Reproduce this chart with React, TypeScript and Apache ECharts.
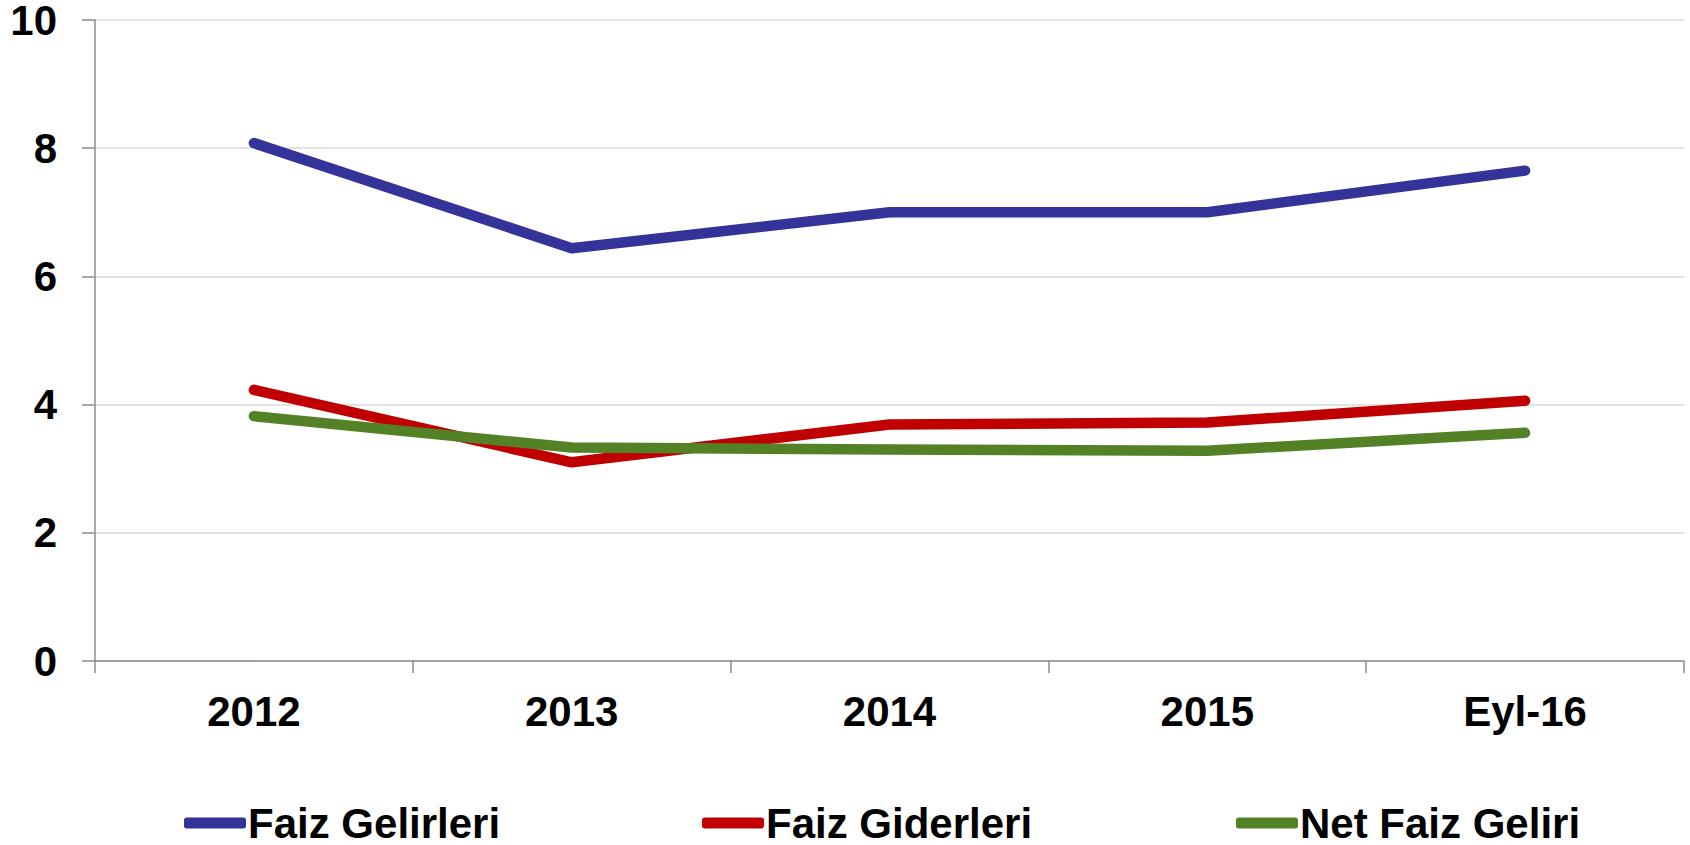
import React, { useEffect, useRef } from "react";
import * as echarts from "echarts";

const categories = ["2012", "2013", "2014", "2015", "Eyl-16"];
const faizGelirleri = [8.08, 6.44, 7.0, 7.0, 7.65];
const faizGiderleri = [4.23, 3.1, 3.69, 3.72, 4.06];
const netFaizGeliri = [3.82, 3.33, 3.3, 3.28, 3.56];
const seriesNames = ["Faiz Gelirleri", "Faiz Giderleri", "Net Faiz Geliri"];
const colors = ["#333399", "#C00000", "#538126"];
const yTicks = { min: 0, max: 10, interval: 2 };

const FONT = "'Liberation Sans', Arial, sans-serif";

export default function App() {
  const ref = useRef<HTMLDivElement>(null);
  useEffect(() => {
    document.body.style.margin = "0";
    const chart = echarts.init(ref.current!, null, { renderer: "svg" });
    const datas = [faizGelirleri, faizGiderleri, netFaizGeliri];
    const legendLefts = [184, 702, 1236];
    chart.setOption({
      animation: false,
      backgroundColor: "#ffffff",
      grid: {
        left: 95,
        right: 6,
        top: 20,
        bottom: 184,
        containLabel: false,
        outerBoundsMode: "none",
      },
      legend: seriesNames.map((n, i) => ({
        data: [n],
        left: legendLefts[i],
        top: 802,
        padding: 0,
        icon: "roundRect",
        itemWidth: 62,
        itemHeight: 11,
        textStyle: {
          fontFamily: FONT,
          fontWeight: "bold",
          fontSize: 42,
          lineHeight: 38,
          color: "#000",
          padding: [0, 0, 0, -3],
        },
      })),
      xAxis: {
        type: "category",
        data: categories,
        boundaryGap: true,
        axisLine: { show: true, lineStyle: { color: "#8c8c8c", width: 1.5 } },
        axisTick: { show: true, length: 12, lineStyle: { color: "#8c8c8c", width: 1.5 } },
        axisLabel: {
          margin: 29,
          fontFamily: FONT,
          fontWeight: "bold",
          fontSize: 42,
          color: "#000",
        },
        splitLine: { show: false },
      },
      yAxis: {
        type: "value",
        min: yTicks.min,
        max: yTicks.max,
        interval: yTicks.interval,
        axisLine: { show: true, lineStyle: { color: "#8c8c8c", width: 1.5 } },
        axisTick: { show: true, length: 13, lineStyle: { color: "#8c8c8c", width: 1.5 } },
        axisLabel: {
          margin: 38,
          fontFamily: FONT,
          fontWeight: "bold",
          fontSize: 42,
          lineHeight: 28,
          color: "#000",
        },
        splitLine: { show: true, lineStyle: { color: "#d9d9d9", width: 1.5 } },
      },
      series: seriesNames.map((n, i) => ({
        name: n,
        type: "line",
        data: datas[i],
        symbol: "none",
        color: colors[i],
        lineStyle: { color: colors[i], width: 10.5, cap: "round", join: "round" },
        itemStyle: { color: colors[i] },
      })),
    });
    return () => chart.dispose();
  }, []);
  return (
    <div
      ref={ref}
      style={{ position: "fixed", left: 0, top: 0, width: 1690, height: 845 }}
    />
  );
}
